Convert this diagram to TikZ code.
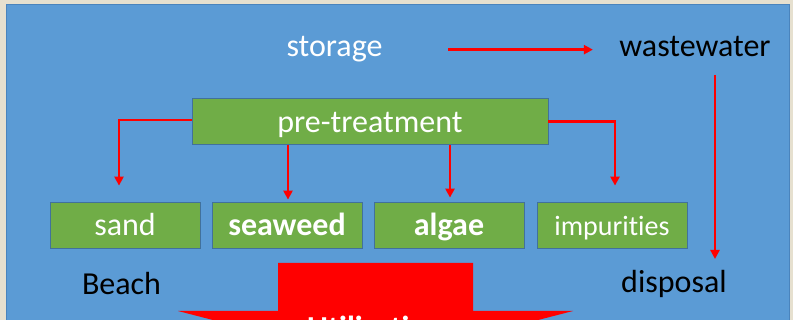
\documentclass[tikz,border=0pt]{standalone}
\usepackage{fontspec}
\setmainfont{Carlito}[Ligatures={NoCommon}, Contextuals={NoAlternate}]
\usepackage{tikz}
\usetikzlibrary{positioning,calc,arrows.meta}
\definecolor{slidebg}{HTML}{E6E0CF}
\definecolor{panelblue}{HTML}{5B9BD5}
\definecolor{paneledge}{HTML}{4A84BD}
\definecolor{boxgreen}{HTML}{70AD47}
\definecolor{boxedge}{HTML}{41719C}
\definecolor{flowred}{HTML}{FF0000}

\begin{document}
\begin{tikzpicture}[x=1pt, y=-1pt,
  bigfont/.style={font=\fontsize{32}{36}\selectfont},
  wordbox/.style={draw=boxedge, line width=0.8pt, fill=boxgreen, text=white, bigfont,
    minimum width=150pt, minimum height=46pt, text height=23pt, text depth=1pt, inner sep=0pt},
  flow/.style={draw=flowred, line width=2.3pt, -{Triangle[length=9pt,width=9pt]}}]
  \useasboundingbox (0,0) rectangle (793,320);
  \clip (0,0) rectangle (793,320);

  % Slide panel
  \fill[slidebg] (0,0) rectangle (793,320);
  \draw[fill=panelblue, draw=paneledge, line width=1pt] (6,5) rectangle (789,330);

  % Top row
  \node[bigfont, text=white, anchor=base] (st) at (334.5,57) {storage};
  \node[bigfont, text=black, anchor=base] (ww) at (695,57) {wastewater};
  \draw[flow, shorten <=62pt, shorten >=23pt] (st.east) -- (st.east -| ww.west);

  % Pre-treatment and its products
  \node[wordbox, minimum width=356pt] (pt) at (370,121.5) {pre-treatment};
  \node[wordbox] (sand) at (125,225) {sand};
  \node[wordbox, font=\fontsize{32}{36}\selectfont\bfseries] (seaweed) at (287,225) {seaweed};
  \node[wordbox, font=\fontsize{32}{36}\selectfont\bfseries] (algae) at (449,225) {algae};
  \node[wordbox, font=\fontsize{28}{32}\selectfont] (impur) at (612,225) {impurities};

  \draw[flow, shorten >=16pt] ([yshift=1.5pt]pt.west) -| ([xshift=-6pt]sand.north);
  \draw[flow, shorten >=2pt] ([xshift=-82pt]pt.south) -- ([xshift=1pt]seaweed.north);
  \draw[flow, shorten >=4pt] ([xshift=80pt]pt.south) -- ([xshift=1pt]algae.north);
  \draw[flow, shorten >=16pt] (pt.east) -| ([xshift=3pt]impur.north);

  % Side labels
  \node[bigfont, text=black, anchor=base] (beach) at (121.5,295) {Beach};
  \node[bigfont, text=black, anchor=base] (disposal) at (674,293) {disposal};
  \coordinate (wwout) at (715,75);
  \coordinate (dispin) at (715,259);
  \draw[flow] (wwout) -- (dispin);

  % Big arrow
  \fill[flowred] (278,263) -- (473,263) -- (473,311) -- (573,311) -- (375.5,362)
    -- (178,311) -- (278,311) -- cycle;
  \node[font=\fontsize{32}{36}\selectfont\bfseries, text=white, anchor=base] (util) at (375.5,339) {Utilization};
\end{tikzpicture}
\end{document}
